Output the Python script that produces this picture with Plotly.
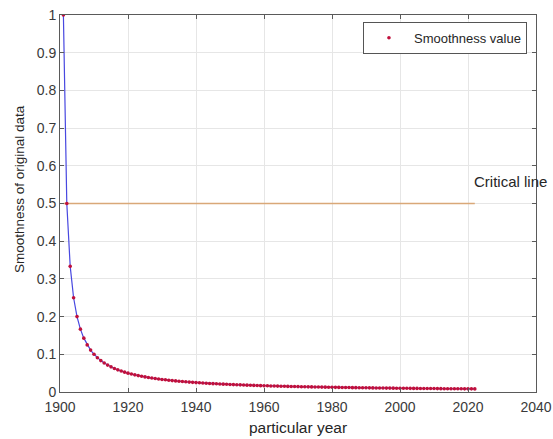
import plotly.graph_objects as go

years = list(range(1901, 2023))
smoothness = [
    1, 0.5, 0.3333, 0.25, 0.2, 0.1667, 0.1429, 0.125, 0.1111, 0.1,
    0.0909, 0.0833, 0.0769, 0.0714, 0.0667, 0.0625, 0.0588, 0.0556, 0.0526, 0.05,
    0.0476, 0.0455, 0.0435, 0.0417, 0.04, 0.0385, 0.037, 0.0357, 0.0345, 0.0333,
    0.0323, 0.0313, 0.0303, 0.0294, 0.0286, 0.0278, 0.027, 0.0263, 0.0256, 0.025,
    0.0244, 0.0238, 0.0233, 0.0227, 0.0222, 0.0217, 0.0213, 0.0208, 0.0204, 0.02,
    0.0196, 0.0192, 0.0189, 0.0185, 0.0182, 0.0179, 0.0175, 0.0172, 0.0169, 0.0167,
    0.0164, 0.0161, 0.0159, 0.0156, 0.0154, 0.0152, 0.0149, 0.0147, 0.0145, 0.0143,
    0.0141, 0.0139, 0.0137, 0.0135, 0.0133, 0.0132, 0.013, 0.0128, 0.0127, 0.0125,
    0.0123, 0.0122, 0.012, 0.0119, 0.0118, 0.0116, 0.0115, 0.0114, 0.0112, 0.0111,
    0.011, 0.0109, 0.0108, 0.0106, 0.0105, 0.0104, 0.0103, 0.0102, 0.0101, 0.01,
    0.0099, 0.0098, 0.0097, 0.0096, 0.0095, 0.0094, 0.0093, 0.0093, 0.0092, 0.0091,
    0.009, 0.0089, 0.0088, 0.0088, 0.0087, 0.0086, 0.0085, 0.0085, 0.0084, 0.0083,
    0.0083, 0.0082,
]
critical_x = [1901, 2022]
critical_y = [0.5, 0.5]
x_ticks = [1900, 1920, 1940, 1960, 1980, 2000, 2020, 2040]
y_ticks = [0, 0.1, 0.2, 0.3, 0.4, 0.5, 0.6, 0.7, 0.8, 0.9, 1]
y_tick_text = ["0", "0.1", "0.2", "0.3", "0.4", "0.5", "0.6", "0.7", "0.8", "0.9", "1"]

FONT = "Liberation Sans, Arial"
W, H = 553, 439
ML, MR, MT, MB = 60, 17, 15, 47
plot_w = W - ML - MR
plot_h = H - MT - MB

fig = go.Figure()
fig.add_trace(go.Scatter(x=years, y=smoothness, mode="lines",
                         line=dict(color="#4848E0", width=1.2), showlegend=False,
                         hoverinfo="skip"))
fig.add_trace(go.Scatter(x=critical_x, y=critical_y, mode="lines",
                         line=dict(color="#D9A878", width=1.5), showlegend=False))
fig.add_trace(go.Scatter(x=years, y=smoothness, mode="markers",
                         marker=dict(color="#C0103C", size=3.6),
                         name="Smoothness value"))

fig.add_annotation(x=2022, y=0.5, xref="x", yref="y", text="Critical line",
                   showarrow=False, xanchor="left", yanchor="bottom",
                   xshift=-3, yshift=12,
                   font=dict(family=FONT, size=15, color="#262626"))

# y-axis title placed at pixel position (19, 189)
fig.add_annotation(x=(19 - ML) / plot_w, y=(MT + plot_h - 189) / plot_h,
                   xref="paper", yref="paper", text="Smoothness of original data",
                   showarrow=False, textangle=-90, xanchor="center", yanchor="middle",
                   font=dict(family=FONT, size=13.5, color="#262626"))

axis_common = dict(showline=True, linecolor="#5a5a5a", linewidth=1, mirror="ticks",
                   ticks="inside", ticklen=4, tickcolor="#5a5a5a",
                   showgrid=True, gridcolor="#e6e6e6", gridwidth=1,
                   zeroline=False, automargin=False,
                   tickfont=dict(family=FONT, size=14, color="#3a3a3a"))

fig.update_layout(
    width=W, height=H,
    margin=dict(l=ML, r=MR, t=MT, b=MB),
    paper_bgcolor="white", plot_bgcolor="white",
    xaxis=dict(range=[1900, 2040], tickvals=x_ticks, ticklabelstandoff=2, **axis_common,
               title=dict(text="particular year", standoff=8,
                          font=dict(family=FONT, size=15.5, color="#262626"))),
    yaxis=dict(range=[0, 1], tickvals=y_ticks, ticktext=y_tick_text, **axis_common),
    legend=dict(x=0.981, y=0.982, xanchor="right", yanchor="top",
                bgcolor="white", bordercolor="#555555", borderwidth=1,
                font=dict(family=FONT, size=13, color="#262626"),
                itemwidth=40),
)

fig.write_html("out.html")
